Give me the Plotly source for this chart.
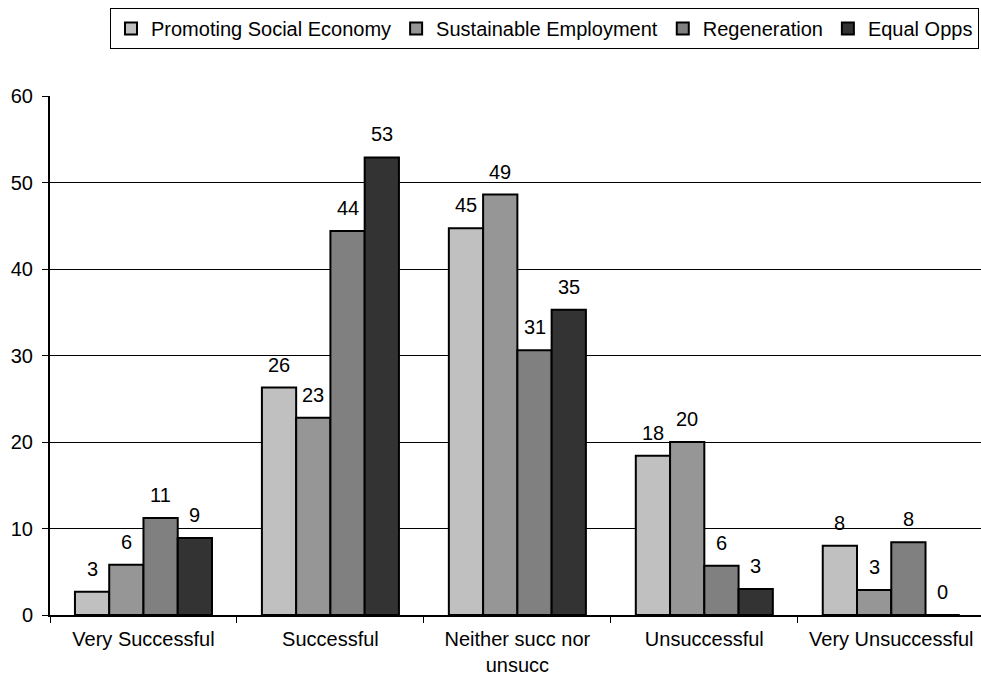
import plotly.graph_objects as go

# Survey responses (%) by rating category, one list per objective
categories = ["Very Successful", "Successful", "Neither succ nor<br>unsucc",
              "Unsuccessful", "Very Unsuccessful"]
series_names = ["Promoting Social Economy", "Sustainable Employment",
                "Regeneration", "Equal Opps"]
promoting_social_economy = [2.7, 26.3, 44.7, 18.4, 8.0]
sustainable_employment = [5.8, 22.8, 48.6, 20.0, 2.9]
regeneration = [11.2, 44.4, 30.6, 5.7, 8.4]
equal_opps = [8.9, 52.9, 35.3, 3.0, 0.0]
y_ticks = [0, 10, 20, 30, 40, 50, 60]

series_values = [promoting_social_economy, sustainable_employment,
                 regeneration, equal_opps]
fills = ["#C0C0C0", "#969696", "#808080", "#333333"]

FONT = "Liberation Sans, Arial, sans-serif"
FS = 20
BARGAP = 0.267

fig = go.Figure()
for name, vals, col in zip(series_names, series_values, fills):
    fig.add_trace(go.Bar(
        name=name, x=categories, y=vals,
        marker=dict(color=col, line=dict(color="black", width=2)),
        hoverinfo="x+y+name",
    ))

# value labels centred over each bar of a group
n = len(series_values)
bar_w = (1 - BARGAP) / n
for i, vals in enumerate(series_values):
    for j, v in enumerate(vals):
        fig.add_annotation(
            x=j + (i - (n - 1) / 2) * bar_w, y=v,
            xref="x", yref="y", text=f"{v:.0f}", showarrow=False,
            yanchor="middle", yshift=23,
            font=dict(family=FONT, size=FS, color="black"),
        )

fig.update_layout(
    width=981, height=677,
    margin=dict(l=50, r=0, t=96, b=62),
    paper_bgcolor="white", plot_bgcolor="white",
    barmode="group", bargap=BARGAP, bargroupgap=0,
    font=dict(family=FONT, size=FS, color="black"),
    showlegend=True,
    legend=dict(
        orientation="h", xref="container", yref="container",
        x=110 / 981, y=1 - 8 / 677, xanchor="left", yanchor="top",
        bordercolor="black", borderwidth=1, bgcolor="white",
        font=dict(family=FONT, size=FS, color="black"),
        traceorder="normal",
    ),
)
fig.update_xaxes(
    range=[-0.5, 4.48], showline=True, linecolor="black", linewidth=2,
    ticks="outside", tickson="boundaries", ticklen=6, tickcolor="black",
    tickwidth=1, showgrid=False, tickfont=dict(family=FONT, size=FS),
    ticklabelstandoff=5, automargin=False,
)
fig.update_yaxes(
    range=[0, 60], tickvals=y_ticks, showline=True, linecolor="black",
    linewidth=2, ticks="outside", ticklen=6, tickcolor="black", tickwidth=1,
    showgrid=True, gridcolor="black", gridwidth=1, zeroline=False,
    tickfont=dict(family=FONT, size=FS), ticklabelstandoff=5,
    automargin=False,
)

fig.write_html("out.html")
